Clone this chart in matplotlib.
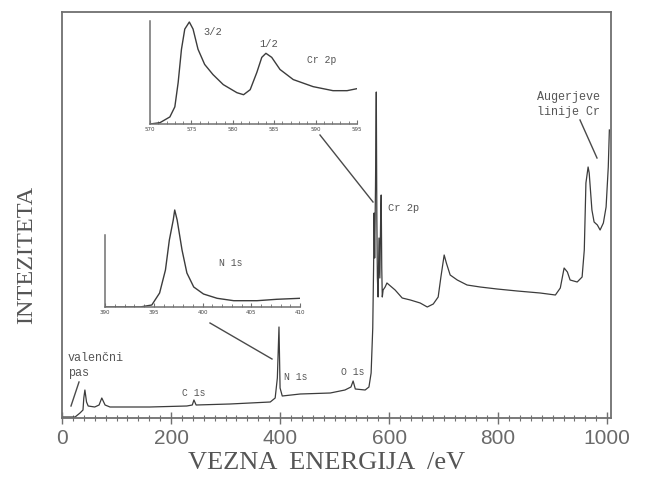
import matplotlib
matplotlib.use("Agg")
import matplotlib.pyplot as plt
from matplotlib.lines import Line2D

# ---- main survey spectrum (binding energy eV, intensity a.u.) ----
survey_e = [0, 24, 33, 38.5, 40, 42, 45, 48, 60, 68, 73, 79, 88, 161, 229, 239, 242, 246,
            308, 382, 391, 395, 398, 400, 404, 437, 492, 519, 530, 534, 538, 556, 563, 567,
            570, 571.5, 572.5, 573.5, 575, 576.5, 577.5, 578.5, 579.8, 581.5, 583, 584.5,
            585.5, 586.5, 587.5, 589, 592.7, 596, 611, 624, 639, 657, 670, 681, 690, 695,
            701, 705, 712, 725, 743, 767, 798, 835, 877, 905, 914, 921, 927, 932, 945, 954,
            958, 961, 965, 967, 972, 976, 982, 987, 993, 998, 1002, 1004]
survey_i = [1, 1, 5, 8, 20, 28, 16, 12, 11, 13, 20, 13, 11, 11, 12, 13, 18, 13,
            14, 16, 20, 40, 91, 30, 22, 24, 25, 28, 31, 37, 29, 28, 31, 45,
            90, 150, 205, 160, 230, 326, 200, 140, 121, 180, 140, 200,
            223, 150, 121, 128, 131, 135, 128, 120, 118, 115, 111, 114, 121, 141,
            163, 155, 143, 138, 133, 131, 129, 127, 125, 123, 130, 150, 146, 138, 136, 141,
            168, 235, 251, 245, 208, 196, 193, 188, 195, 211, 251, 288]

# ---- Cr 2p detail ----
cr_e = [570, 571.2, 572.4, 573, 573.4, 573.8, 574.2, 574.75, 575.2, 575.8, 576.6, 577.6,
        578.85, 580.5, 581.3, 582.1, 582.9, 583.5, 584.0, 584.7, 585.7, 587.3, 589.7,
        592.1, 593.8, 595]
cr_i = [0, 1.3, 7, 17, 41, 74, 94, 101, 94, 74, 59, 49, 39, 31, 29, 34, 51, 66, 70, 66,
        54, 44, 37, 33, 33, 35]
cr_ticks = [570, 575, 580, 585, 590, 595]

# ---- N 1s detail ----
n_e = [390, 393.6, 394.8, 395.6, 396.2, 396.6, 397.0, 397.15, 397.4, 397.9, 398.4, 399.1,
       400.1, 401.5, 403.2, 405.6, 407.6, 410]
n_i = [0, 0, 2, 14, 37, 67, 87, 97, 87, 57, 34, 20, 13, 8.7, 6.3, 6.3, 7.7, 8.7]
n_ticks = [390, 395, 400, 405, 410]

main_ticks = [0, 200, 400, 600, 800, 1000]

LINE = "#3c3c3c"
FRAME = "#707070"
TXT = "#555555"
MONO = ["Liberation Mono", "DejaVu Sans Mono"]
SERIF = ["Liberation Serif", "DejaVu Serif"]

W, H = 648, 479
fig = plt.figure(figsize=(W / 100, H / 100), dpi=100)


def rect(x0, y0, x1, y1):
    # pixel box (top-left origin) -> figure fraction
    return [x0 / W, 1 - y1 / H, (x1 - x0) / W, (y1 - y0) / H]


ax = fig.add_axes(rect(62, 12, 611, 418))
ax.plot(survey_e, survey_i, color=LINE, lw=0.9)
ax.set_xlim(0, 1007)
ax.set_ylim(0, 406)
ax.set_yticks([])
ax.set_xticks(main_ticks)
ax.set_xticks(range(0, 1001, 20), minor=True)
ax.tick_params(axis="x", which="major", direction="inout", length=8, width=1, color=FRAME,
               labelsize=15, labelcolor="#6a6a6a", pad=4)
ax.tick_params(axis="x", which="minor", direction="inout", length=5, width=0.8, color=FRAME)
for lab in ax.get_xticklabels():
    lab.set_fontfamily(["Liberation Sans", "DejaVu Sans"])
for s in ax.spines.values():
    s.set_color(FRAME)
    s.set_linewidth(1.3)

fig.text(327 / W, 1 - 463 / H, "VEZNA  ENERGIJA  /eV", fontfamily=SERIF, fontsize=19,
         color="#555555", ha="center", va="center")
fig.text(27 / W, 1 - 255 / H, "INTEZITETA", fontfamily=SERIF, fontsize=17.5,
         color="#555555", ha="center", va="center", rotation=90)

def T(x, y, s, size=7.5, **kw):
    fig.text(x / W, 1 - y / H, s, fontfamily=MONO, fontsize=size, color=TXT,
             va="center", **kw)

T(68, 358, "valenčni", size=8.5)
T(68, 373, "pas", size=8.5)
T(182, 393, "C 1s", size=7)
T(284, 377, "N 1s", size=7)
T(341, 372, "O 1s", size=7)
T(388, 208, "Cr 2p", size=7.5)
T(600, 97, "Augerjeve", size=8.5, ha="right")
T(600, 112, "linije Cr", size=8.5, ha="right")

def L(x0, y0, x1, y1):
    fig.add_artist(Line2D([x0 / W, x1 / W], [1 - y0 / H, 1 - y1 / H],
                          color="#4a4a4a", lw=1.0, transform=fig.transFigure))

L(79, 382, 71, 406)
L(210, 323, 272, 359)
L(320, 135, 373, 202)
L(580, 120, 597, 158)

def inset(box, e, i, xt, xlim, ylim, minor_step):
    a = fig.add_axes(box)
    a.patch.set_alpha(0)
    a.plot(e, i, color=LINE, lw=1.0)
    a.set_xlim(*xlim)
    a.set_ylim(*ylim)
    a.set_yticks([])
    a.set_xticks(xt)
    a.set_xticks(list(range(xlim[0], xlim[1] + 1, minor_step)), minor=True)
    a.tick_params(axis="x", which="major", direction="in", length=3, width=0.8,
                  color=FRAME, labelsize=4, labelcolor="#444444", pad=2)
    a.tick_params(axis="x", which="minor", direction="in", length=2, width=0.6, color=FRAME)
    for side in ("top", "right"):
        a.spines[side].set_visible(False)
    for side in ("left", "bottom"):
        a.spines[side].set_color(FRAME)
        a.spines[side].set_linewidth(1.1)
    return a

cr_ax = inset(rect(150, 21, 357, 124), cr_e, cr_i, cr_ticks, (570, 595), (0, 102), 1)
n_ax = inset(rect(105, 207, 300, 307), n_e, n_i, n_ticks, (390, 410), (0, 100), 1)
n_ax.spines["left"].set_bounds(0, 72)

T(203, 32, "3/2", size=7.5)
T(259, 44, "1/2", size=7.5)
T(307, 60, "Cr 2p", size=7)
T(219, 263, "N 1s", size=7)

fig.savefig("out.png", dpi=100)
